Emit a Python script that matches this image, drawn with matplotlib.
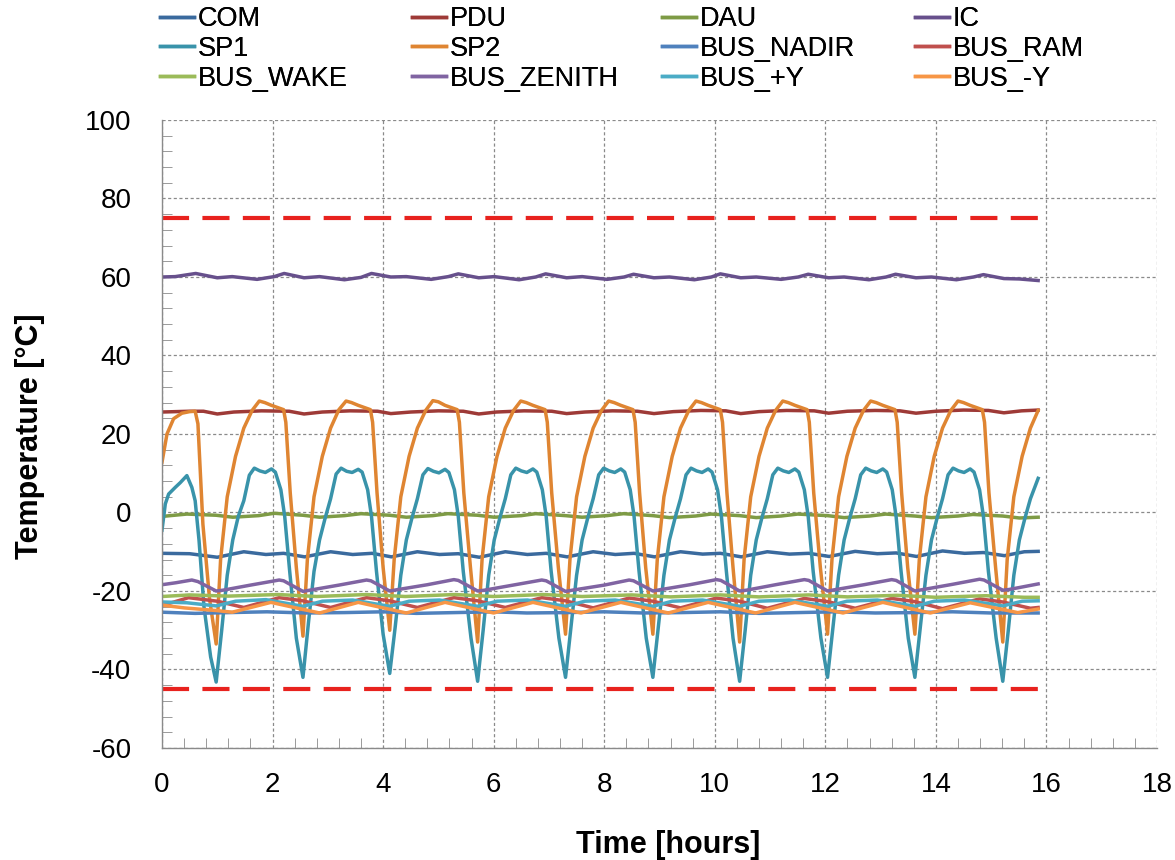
import matplotlib
matplotlib.use("Agg")
import matplotlib.pyplot as plt
from matplotlib.ticker import MultipleLocator

plt.rcParams['font.family'] = ['Liberation Sans', 'DejaVu Sans']
plt.rcParams['axes.unicode_minus'] = False

# ---------------- data ----------------
SERIES_NAMES = ["COM", "PDU", "DAU", "IC", "SP1", "SP2", "BUS_NADIR", "BUS_RAM",
                "BUS_WAKE", "BUS_ZENITH", "BUS_+Y", "BUS_-Y"]

COM_T = [0.0, 0.5, 1.0, 1.48, 1.88, 2.2, 2.58, 3.05, 3.45, 3.8, 4.15, 4.62, 5.02, 5.36, 5.74,
         6.21, 6.61, 6.95, 7.33, 7.8, 8.2, 8.54, 8.91, 9.38, 9.78, 10.1, 10.48, 10.95, 11.35,
         11.7, 12.07, 12.54, 12.94, 13.28, 13.65, 14.12, 14.52, 14.86, 15.24, 15.6, 15.85]
COM_V = [-10.4, -10.5, -11.4, -10.0, -10.7, -10.4, -11.3, -10.0, -10.7, -10.4, -11.3, -10.0,
         -10.7, -10.5, -11.4, -10.0, -10.7, -10.4, -11.3, -10.0, -10.7, -10.4, -11.3, -10.0,
         -10.6, -10.4, -11.3, -10.0, -10.6, -10.4, -11.2, -9.9, -10.5, -10.3, -11.2, -9.8,
         -10.4, -10.2, -11.0, -10.0, -9.9]

PDU_T = [0.0, 0.5, 0.75, 1.0, 1.3, 1.8, 2.3, 2.57, 2.9, 3.4, 3.9, 4.14, 4.5, 5.0, 5.45, 5.73,
         6.05, 6.55, 7.05, 7.32, 7.65, 8.15, 8.6, 8.9, 9.25, 9.75, 10.2, 10.47, 10.8, 11.3,
         11.8, 12.06, 12.4, 12.9, 13.35, 13.64, 14.0, 14.5, 14.95, 15.23, 15.55, 15.85]
PDU_V = [25.6, 25.8, 25.8, 25.1, 25.6, 25.9, 25.8, 25.1, 25.6, 25.9, 25.8, 25.2, 25.6, 25.9,
         25.8, 25.1, 25.6, 25.9, 25.8, 25.2, 25.6, 25.9, 25.8, 25.2, 25.7, 26.0, 25.9, 25.2,
         25.7, 26.0, 25.9, 25.3, 25.8, 26.0, 25.9, 25.3, 25.8, 26.1, 26.0, 25.4, 25.9, 26.1]

DAU_T = [0.0, 0.45, 0.98, 1.28, 1.75, 2.03, 2.55, 2.85, 3.3, 3.6, 4.12, 4.42, 4.9, 5.17, 5.71,
         6.01, 6.5, 6.76, 7.3, 7.6, 8.05, 8.35, 8.88, 9.18, 9.65, 9.93, 10.45, 10.75, 11.2,
         11.5, 12.04, 12.34, 12.8, 13.09, 13.62, 13.92, 14.4, 14.67, 15.21, 15.51, 15.85]
DAU_V = [-1.0, -0.4, -0.7, -1.2, -0.8, -0.2, -0.7, -1.2, -0.8, -0.3, -0.7, -1.2, -0.8, -0.3,
         -0.7, -1.2, -0.8, -0.3, -0.8, -1.2, -0.8, -0.3, -0.8, -1.3, -0.9, -0.4, -0.8, -1.3,
         -0.9, -0.4, -0.8, -1.3, -0.9, -0.4, -0.9, -1.3, -0.9, -0.5, -0.9, -1.4, -1.2]

IC_T = [0.0, 0.24, 0.61, 1.0, 1.27, 1.72, 2.03, 2.21, 2.57, 2.85, 3.3, 3.6, 3.79, 4.14, 4.42,
        4.87, 5.18, 5.36, 5.73, 6.01, 6.46, 6.76, 6.94, 7.32, 7.6, 8.05, 8.36, 8.53, 8.9, 9.18,
        9.63, 9.94, 10.1, 10.47, 10.75, 11.2, 11.51, 11.69, 12.06, 12.34, 12.79, 13.1, 13.27,
        13.64, 13.92, 14.37, 14.68, 14.86, 15.23, 15.51, 15.85]
IC_V = [60.0, 60.1, 60.9, 59.8, 60.1, 59.4, 60.1, 60.9, 59.8, 60.1, 59.3, 59.9, 60.9, 60.0,
        60.1, 59.4, 60.1, 60.8, 59.8, 60.1, 59.3, 60.0, 60.8, 59.8, 60.1, 59.4, 60.0, 60.7,
        59.8, 60.0, 59.3, 60.0, 60.8, 59.8, 60.0, 59.4, 60.0, 60.7, 59.8, 60.0, 59.3, 60.0,
        60.7, 59.8, 60.0, 59.3, 60.0, 60.6, 59.6, 59.5, 59.1]

SP1_T = [0.0, 0.06, 0.12, 0.24, 0.33, 0.45, 0.54, 0.6, 0.67, 0.76, 0.88, 0.98,
         1.08, 1.18, 1.28, 1.38, 1.48, 1.58, 1.67, 1.77, 1.87, 1.98, 2.05, 2.15, 2.22, 2.31, 2.43, 2.55,
         2.65, 2.75, 2.85, 2.95, 3.05, 3.15, 3.24, 3.34, 3.44, 3.55, 3.62, 3.72, 3.79, 3.88, 4.0, 4.12,
         4.22, 4.32, 4.42, 4.52, 4.62, 4.72, 4.81, 4.91, 5.01, 5.12, 5.19, 5.29, 5.36, 5.45, 5.59, 5.71,
         5.81, 5.91, 6.01, 6.11, 6.21, 6.31, 6.4, 6.5, 6.6, 6.71, 6.78, 6.88, 6.95, 7.04, 7.18, 7.3,
         7.4, 7.5, 7.6, 7.7, 7.8, 7.9, 7.99, 8.09, 8.19, 8.3, 8.37, 8.47, 8.54, 8.63, 8.76, 8.88,
         8.98, 9.08, 9.18, 9.28, 9.38, 9.48, 9.57, 9.67, 9.77, 9.88, 9.95, 10.05, 10.12, 10.21, 10.33, 10.45,
         10.55, 10.65, 10.75, 10.85, 10.95, 11.05, 11.14, 11.24, 11.34, 11.45, 11.52, 11.62, 11.69, 11.78, 11.92, 12.04,
         12.14, 12.24, 12.34, 12.44, 12.54, 12.64, 12.73, 12.83, 12.93, 13.04, 13.11, 13.21, 13.28, 13.37, 13.5, 13.62,
         13.72, 13.82, 13.92, 14.02, 14.12, 14.22, 14.31, 14.41, 14.51, 14.62, 14.69, 14.79, 14.86, 14.95, 15.09, 15.21,
         15.31, 15.41, 15.51, 15.61, 15.71, 15.85]
SP1_V = [-4.5, 2.2, 4.7, 6.4, 7.6, 9.4, 6.4, 3.0, -7.1, -24.1, -36.8, -43.2,
         -30, -16, -7, -1, 3, 9.5, 11.3, 10.6, 10.2, 11.1, 10.3, 5.8, -1, -15, -32, -42,
         -28, -15, -7, -1.5, 3.5, 9.8, 11.3, 10.5, 10.2, 11.0, 10.3, 5.8, -1, -15, -31, -41,
         -29, -16, -7, -1.5, 3.5, 9.6, 11.2, 10.5, 10.1, 11.0, 10.2, 5.8, -1, -15, -32, -43,
         -30, -16, -7, -1.5, 3.5, 9.6, 11.3, 10.6, 10.2, 11.1, 10.3, 5.8, -1, -15, -32, -42,
         -29, -16, -7, -1.5, 3.5, 9.6, 11.3, 10.6, 10.2, 11.1, 10.3, 5.8, -1, -15, -32, -42,
         -29, -16, -7, -1.5, 3.5, 9.6, 11.3, 10.6, 10.2, 11.1, 10.3, 5.8, -1, -15, -32, -43,
         -30, -16, -7, -1.5, 3.5, 9.6, 11.3, 10.6, 10.2, 11.1, 10.3, 5.8, -1, -15, -32, -42,
         -29, -16, -7, -1.5, 3.5, 9.6, 11.3, 10.6, 10.2, 11.1, 10.3, 5.8, -1, -15, -32, -42,
         -29, -16, -7, -1.5, 3.5, 9.6, 11.3, 10.6, 10.2, 11.1, 10.3, 5.8, -1, -15, -32, -43,
         -30, -16, -7, -1.5, 3.5, 8.7]

SP2_T = [0.0, 0.09, 0.21, 0.36, 0.5, 0.6, 0.65, 0.74, 0.86, 0.98,
         1.06, 1.18, 1.33, 1.48, 1.63, 1.76, 1.86, 1.98, 2.1, 2.2, 2.24, 2.32, 2.43, 2.55,
         2.63, 2.75, 2.9, 3.05, 3.2, 3.33, 3.43, 3.55, 3.67, 3.77, 3.81, 3.89, 4.0, 4.12,
         4.2, 4.32, 4.47, 4.62, 4.77, 4.9, 5.0, 5.12, 5.24, 5.34, 5.38, 5.46, 5.58, 5.71,
         5.79, 5.91, 6.06, 6.21, 6.36, 6.49, 6.59, 6.71, 6.83, 6.93, 6.97, 7.05, 7.17, 7.3,
         7.38, 7.5, 7.65, 7.8, 7.95, 8.08, 8.18, 8.3, 8.42, 8.52, 8.56, 8.64, 8.75, 8.88,
         8.96, 9.08, 9.23, 9.38, 9.53, 9.66, 9.76, 9.88, 10.0, 10.1, 10.14, 10.22, 10.33, 10.45,
         10.53, 10.65, 10.8, 10.95, 11.1, 11.23, 11.33, 11.45, 11.57, 11.67, 11.71, 11.79, 11.91, 12.04,
         12.12, 12.24, 12.39, 12.54, 12.69, 12.82, 12.92, 13.04, 13.16, 13.26, 13.3, 13.38, 13.49, 13.62,
         13.7, 13.82, 13.97, 14.12, 14.27, 14.4, 14.5, 14.62, 14.74, 14.84, 14.88, 14.96, 15.08, 15.21,
         15.29, 15.41, 15.56, 15.71, 15.85]
SP2_V = [12.8, 20.0, 23.9, 25.3, 25.7, 25.8, 22.6, -3, -22, -33.5,
         -12, 4, 14.3, 21.5, 26, 28.4, 28.0, 27.3, 26.7, 26.2, 23, 5, -14, -31.5,
         -12, 4, 14.3, 21.5, 26.2, 28.4, 28.0, 27.3, 26.7, 26.2, 23, 5, -14, -30,
         -12, 4, 14.3, 21.5, 26.0, 28.5, 28.2, 27.3, 26.7, 26.2, 23, 5, -14, -33,
         -12, 4, 14.3, 21.5, 26, 28.4, 28.0, 27.3, 26.7, 26.2, 23, 5, -14, -31,
         -12, 4, 14.3, 21.5, 26, 28.4, 28.0, 27.3, 26.7, 26.2, 23, 5, -14, -31,
         -12, 4, 14.3, 21.5, 26, 28.4, 28.0, 27.3, 26.7, 26.2, 23, 5, -14, -33,
         -12, 4, 14.3, 21.5, 26, 28.4, 28.0, 27.3, 26.7, 26.2, 23, 5, -14, -31,
         -12, 4, 14.3, 21.5, 26, 28.4, 28.0, 27.3, 26.7, 26.2, 23, 5, -14, -31,
         -12, 4, 14.3, 21.5, 26, 28.4, 28.0, 27.3, 26.7, 26.2, 23, 5, -14, -33,
         -12, 4, 14.3, 21.5, 26]

NADIR_T = [0.0, 0.6, 1.2, 1.9, 2.6, 3.3, 4.0, 4.6, 5.3, 6.0, 6.6, 7.3, 8.0, 8.7, 9.4, 10.1,
           10.8, 11.5, 12.2, 12.9, 13.6, 14.3, 15.0, 15.85]
NADIR_V = [-25.4, -25.7, -25.5, -25.3, -25.6, -25.5, -25.3, -25.7, -25.5, -25.3, -25.6, -25.5,
           -25.3, -25.6, -25.5, -25.3, -25.7, -25.5, -25.3, -25.6, -25.5, -25.3, -25.6, -25.6]

RAM_T = [0.0, 0.48, 1.0, 1.48, 2.12, 2.55, 3.05, 3.7, 4.12, 4.62, 5.28, 5.71, 6.21, 6.87, 7.3,
         7.8, 8.45, 8.88, 9.38, 10.03, 10.45, 10.95, 11.62, 12.04, 12.54, 13.2, 13.62, 14.12,
         14.79, 15.21, 15.71, 15.85]
RAM_V = [-23.7, -21.7, -22.6, -24.2, -21.7, -22.5, -24.2, -21.7, -22.5, -24.2, -21.7, -22.5,
         -24.2, -21.7, -22.5, -24.3, -21.8, -22.6, -24.3, -21.8, -22.6, -24.4, -21.9, -22.7,
         -24.4, -21.9, -22.7, -24.5, -22.0, -22.8, -24.4, -24.2]

WAKE_T = [0.0, 0.5, 1.2, 2.1, 2.8, 3.7, 4.4, 5.3, 6.0, 6.9, 7.6, 8.5, 9.2, 10.1, 10.8, 11.7,
          12.4, 13.3, 14.0, 14.9, 15.6, 15.85]
WAKE_V = [-21.4, -21.0, -21.3, -20.9, -21.4, -20.9, -21.4, -20.9, -21.4, -20.9, -21.4, -21.0,
          -21.5, -21.0, -21.5, -21.0, -21.5, -21.1, -21.6, -21.2, -21.6, -21.6]

ZENITH_T = [0.0, 0.25, 0.54, 0.65, 0.98, 1.1, 1.6, 2.12, 2.2, 2.55, 2.67, 3.2, 3.7, 3.78, 4.12,
            4.24, 4.8, 5.28, 5.36, 5.71, 5.83, 6.35, 6.87, 6.95, 7.3, 7.42, 8.0, 8.45, 8.53,
            8.88, 9.0, 9.55, 10.03, 10.11, 10.45, 10.57, 11.1, 11.62, 11.7, 12.04, 12.16, 12.7,
            13.2, 13.28, 13.62, 13.74, 14.3, 14.79, 14.87, 15.21, 15.33, 15.85]
ZENITH_V = [-18.4, -17.9, -17.2, -17.6, -20.0, -19.8, -18.5, -17.2, -17.4, -20.1, -19.8, -18.5,
            -17.2, -17.4, -20.0, -19.7, -18.4, -17.1, -17.3, -20.0, -19.8, -18.5, -17.2, -17.4,
            -20.1, -19.8, -18.5, -17.2, -17.4, -20.0, -19.7, -18.4, -17.1, -17.3, -20.0, -19.8,
            -18.4, -17.1, -17.3, -20.0, -19.7, -18.4, -17.1, -17.3, -20.0, -19.7, -18.3, -17.0,
            -17.2, -19.8, -19.6, -18.2]

PY_T = [0.0, 0.45, 0.98, 1.33, 1.88, 2.55, 2.9, 3.45, 4.12, 4.47, 5.02, 5.71, 6.06, 6.61, 7.3,
        7.65, 8.2, 8.88, 9.23, 9.78, 10.45, 10.8, 11.35, 12.04, 12.39, 12.94, 13.62, 13.97,
        14.52, 15.21, 15.56, 15.85]
PY_V = [-22.8, -23.0, -23.8, -22.6, -22.2, -23.9, -22.6, -22.3, -23.9, -22.6, -22.3, -23.9,
        -22.6, -22.3, -23.9, -22.6, -22.3, -23.9, -22.6, -22.3, -23.9, -22.6, -22.3, -23.9,
        -22.6, -22.3, -23.9, -22.6, -22.3, -23.8, -22.6, -22.5]

MY_T = [0.0, 0.4, 1.0, 1.27, 1.97, 2.85, 3.55, 4.42, 5.12, 6.0, 6.71, 7.58, 8.3, 9.16, 9.88,
        10.74, 11.45, 12.32, 13.04, 13.9, 14.62, 15.48, 15.85]
MY_V = [-23.6, -24.3, -25.0, -25.4, -22.9, -25.6, -22.9, -25.6, -22.9, -25.6, -22.9, -25.6,
        -22.9, -25.6, -22.9, -25.6, -22.9, -25.6, -22.9, -25.6, -23.0, -25.5, -24.6]

LIMIT_T = [0.0, 15.85]
LIMIT_HIGH = 75
LIMIT_LOW = -45

X_TICKS = [0, 2, 4, 6, 8, 10, 12, 14, 16, 18]
Y_TICKS = [-60, -40, -20, 0, 20, 40, 60, 80, 100]

series = [(COM_T, COM_V), (PDU_T, PDU_V), (DAU_T, DAU_V), (IC_T, IC_V), (SP1_T, SP1_V),
          (SP2_T, SP2_V), (NADIR_T, NADIR_V), (RAM_T, RAM_V), (WAKE_T, WAKE_V),
          (ZENITH_T, ZENITH_V), (PY_T, PY_V), (MY_T, MY_V)]
colors = ['#3A6A9E', '#9E3A37', '#7E9B45', '#67508C', '#3993AA', '#DF8532',
          '#4F81BD', '#C0504D', '#9BBB59', '#8064A2', '#4BACC6', '#F79646']

# ---------------- figure ----------------
W, H = 1175, 860
fig = plt.figure(figsize=(W / 100, H / 100), dpi=100)
ax = fig.add_axes([162 / W, 1 - 748 / H, (1157 - 162) / W, (748 - 120) / H])

handles = []
for (t, v), name, c in zip(series, SERIES_NAMES, colors):
    h, = ax.plot(t, v, color=c, lw=2.5, label=name, solid_joinstyle='round')
    handles.append(h)

for lim in (LIMIT_HIGH, LIMIT_LOW):
    ax.plot(LIMIT_T, [lim, lim], color='#E8221E', lw=3.0, dashes=(6.5, 3.2))

ax.set_xlim(0, 18)
ax.set_ylim(-60, 100)
ax.set_xticks(X_TICKS)
ax.set_yticks(Y_TICKS)
ax.xaxis.set_minor_locator(MultipleLocator(0.4))
ax.yaxis.set_minor_locator(MultipleLocator(4))
ax.grid(True, which='major', color='#8A8A8A', lw=0.9, linestyle=(0, (2.5, 2.0)))
ax.set_axisbelow(True)
for s in ('top', 'right'):
    ax.spines[s].set_visible(False)
for s in ('left', 'bottom'):
    ax.spines[s].set_color('#8A8A8A')
    ax.spines[s].set_linewidth(1.0)
ax.tick_params(which='both', direction='in', color='#8A8A8A')
ax.tick_params(which='major', length=0)
ax.tick_params(which='minor', length=7)
ax.tick_params(axis='x', which='major', pad=17, labelsize=20)
ax.tick_params(axis='y', which='major', pad=22, labelsize=20)

fig.text(30 / W, 1 - 436 / H, 'Temperature [°C]', rotation=90, ha='center', va='center',
         fontsize=22, fontweight='bold')
fig.text(668 / W, 1 - 845 / H, 'Time [hours]', ha='center', va='center',
         fontsize=22, fontweight='bold')

col_x = [160, 412, 662, 915]
for i, x in enumerate(col_x):
    hs = [handles[i], handles[i + 4], handles[i + 8]]
    leg = fig.legend(handles=hs, loc='upper left', bbox_to_anchor=(x / W, 1 - 6 / H),
                     frameon=False, fontsize=19.5, handlelength=1.25, handletextpad=0.15,
                     labelspacing=0.14, borderpad=0, borderaxespad=0)
    fig.add_artist(leg)

fig.savefig('out.png', dpi=100)
